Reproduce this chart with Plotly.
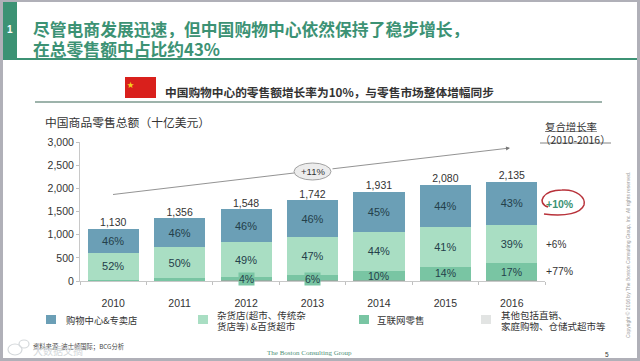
import plotly.graph_objects as go

W, H = 640, 361
years = ["2010", "2011", "2012", "2013", "2014", "2015", "2016"]
totals = [1130, 1356, 1548, 1742, 1931, 2080, 2135]
mall_pct = [46, 46, 46, 46, 45, 44, 43]
grocery_pct = [52, 50, 49, 47, 44, 41, 39]
internet_pct = [1, 3, 4, 6, 10, 14, 17]
other_pct = [1, 1, 1, 1, 1, 1, 1]
internet_labels = ["", "", "4%", "6%", "10%", "14%", "17%"]
y_ticks = [0, 500, 1000, 1500, 2000, 2500, 3000]
cagr_labels = ["+10%", "+6%", "+77%"]

C_MALL, C_GROC, C_NET, C_OTHER = "#6b9fb6", "#a9dec3", "#79c5a3", "#e2e4e3"
C_STRIP = "#8fae9f"
GREEN = "#3c9274"
TEXT = "#333333"
CJK = "Noto Sans CJK SC"
LAT = "Liberation Sans, Noto Sans CJK SC"


def px(x):
    return x / W


def py(y):
    return 1 - y / H


def val(pcts):
    return [t * p / 100 for t, p in zip(totals, pcts)]


fig = go.Figure()
seg = [
    ("其他", other_pct, C_STRIP, None),
    ("互联网零售", internet_pct, C_NET, None),
    ("杂货店", grocery_pct, C_GROC, grocery_pct),
    ("购物中心", mall_pct, C_MALL, mall_pct),
]
for name, pct, col, lab in seg:
    fig.add_bar(
        x=years, y=val(pct), name=name, marker=dict(color=col, line=dict(width=0)),
        text=[f"{p}%" for p in lab] if lab else None,
        textposition="inside" if lab else None,
        insidetextanchor="middle", textangle=0,
        textfont=dict(family=LAT, size=11, color="#24404a"),
        hoverinfo="skip",
    )
fig.add_scatter(
    x=years, y=totals, mode="text", text=[f"{t:,}" for t in totals],
    textposition="top center", textfont=dict(family=LAT, size=10.5, color=TEXT),
    hoverinfo="skip",
)

shapes = []


def rect(x0, y0, x1, y1, fill, line=None, layer="below"):
    shapes.append(dict(type="rect", xref="paper", yref="paper", x0=px(x0), x1=px(x1),
                       y0=py(y0), y1=py(y1), fillcolor=fill,
                       line=dict(width=0 if line is None else 1, color=line or fill), layer=layer))


def hline(x0, x1, y, color, width, y1=None):
    shapes.append(dict(type="line", xref="paper", yref="paper", x0=px(x0), x1=px(x1),
                       y0=py(y), y1=py(y if y1 is None else y1), line=dict(color=color, width=width),
                       layer="below"))


rect(3, 2, 637, 358, "#ffffff")
rect(3, 2, 17, 59, GREEN)
hline(3, 637, 59, GREEN, 2)
hline(35, 602, 102, "#7d9a8f", 1.5)
rect(125, 77, 156, 98, "#d9201c")
hline(540, 611, 143, "#666666", 0.8)
hline(113, 294, 194.5, "#777777", 0.8, y1=173)
for x0, col in [(46, C_MALL), (198, C_GROC), (359, C_NET), (481, C_OTHER)]:
    rect(x0, 315, x0 + 10, 324, col)

# hand-drawn red circle around +10%
path = f"M{px(548)},{py(207)} C{px(536)},{py(203)} {px(543)},{py(190)} {px(562)},{py(190)} " \
       f"C{px(577)},{py(189)} {px(586)},{py(198)} {px(584)},{py(205)} " \
       f"C{px(581)},{py(213)} {px(566)},{py(217)} {px(544)},{py(214)}"
shapes.append(dict(type="path", xref="paper", yref="paper", path=path,
                   line=dict(color="#b8323a", width=1.5), layer="above"))
# trend oval
shapes.append(dict(type="circle", xref="paper", yref="paper", x0=px(294), x1=px(331),
                   y0=py(180), y1=py(163), fillcolor="#ececec",
                   line=dict(color="#8c8c8c", width=0.8), layer="above"))
# watermark icon
for (a, b, c, d) in [(8, 344, 22, 355), (19, 340, 29, 348)]:
    shapes.append(dict(type="circle", xref="paper", yref="paper", x0=px(a), x1=px(c),
                       y0=py(d), y1=py(b), line=dict(color="#d4d8db", width=1.2), layer="above"))

ann = []


def T(x, y, s, size=11, color=TEXT, family=CJK, anchor="left", bold=False, angle=0, **kw):
    ann.append(dict(xref="paper", yref="paper", x=px(x - 2 if anchor == "left" else x), y=py(y),
                    text=f"<b>{s}</b>" if bold else s,
                    showarrow=False, xanchor=anchor, yanchor="middle", textangle=angle,
                    font=dict(size=size, color=color, family=family), align="left", **kw))


ann.append(dict(xref="paper", yref="paper", x=px(510), y=py(148), ax=331 - 510, ay=169 - 148,
                axref="pixel", ayref="pixel", text="", showarrow=True, arrowhead=2, arrowsize=1,
                arrowwidth=0.8, arrowcolor="#777777"))

T(10, 30, "1", 10, "#ffffff", LAT, "center", True)
T(33, 28, "尽管电商发展迅速，但中国购物中心依然保持了稳步增长，", 16.8, GREEN, CJK, bold=True, height=19)
T(33, 48, "在总零售额中占比约43%", 16.8, GREEN, CJK, bold=True, height=19)
T(165, 91, "中国购物中心的零售额增长率为10%，与零售市场整体增幅同步", 11.7, TEXT, CJK, bold=True)
T(136, 84, "★", 7, "#f4d21f", LAT, "right")
T(45, 121, "中国商品零售总额（十亿美元）", 11.8, TEXT, CJK)
T(571, 126, "<u>复合增长率</u>", 10.4, TEXT, CJK, "center", height=12)
T(575, 139, "（2010-2016）", 10.4, TEXT, CJK, "center", height=12)
T(312.5, 171.5, "+11%", 9.5, TEXT, LAT, "center")
T(546, 204, cagr_labels[0], 10.5, GREEN, LAT, bold=True)
T(546, 244, cagr_labels[1], 10, TEXT, LAT)
T(546, 271, cagr_labels[2], 10.5, TEXT, LAT)
T(66, 320, "购物中心&amp;专卖店", 9.3, TEXT, CJK)
T(217, 315, "杂货店(超市、传统杂", 9.5, TEXT, CJK, height=10)
T(217, 325.5, "货店等) &amp;百货超市", 9.5, TEXT, CJK, height=10)
T(377, 320, "互联网零售", 9.5, TEXT, CJK)
T(501, 314.5, "其他包括直销、", 9.5, TEXT, CJK, height=10)
T(501, 325.5, "家庭购物、仓储式超市等", 9.5, TEXT, CJK, height=10)
T(33, 346, "资料来源: 波士顿国际；BCG分析", 6.3, "#444444", CJK)
T(33, 350, "大数据文摘", 10, "#d4d8db", CJK)
T(267, 353, "The Boston Consulting Group", 7, "#4f8f78", "Liberation Serif")
T(607, 354, "5", 6.5, TEXT, LAT, "center")
T(628, 255, "Copyright © 2016 by The Boston Consulting Group, Inc. All rights reserved.", 5,
  "#9a9a9a", LAT, "center", angle=-90)

for i, (t, o, n, lab) in enumerate(zip(totals, other_pct, internet_pct, internet_labels)):
    if not lab:
        continue
    ann.append(dict(xref="x", yref="y", x=i, y=t * (o + n / 2) / 100 if n >= 10 else 40,
                    text=lab, showarrow=False, yanchor="middle",
                    bgcolor=C_NET if n < 10 else None, borderpad=0,
                    font=dict(size=10.5, family=LAT, color="#24404a")))

fig.update_layout(
    width=W, height=H, margin=dict(l=0, r=0, t=0, b=0, autoexpand=False), paper_bgcolor="#b0b0b8",
    plot_bgcolor="rgba(0,0,0,0)", barmode="stack", bargap=0.23, showlegend=False,
    shapes=shapes, annotations=ann,
    xaxis=dict(domain=[px(80), px(545)], type="category", categoryorder="array", categoryarray=years,
               range=[-0.5, 6.5], tickson="boundaries", ticks="outside",
               ticklen=3, tickcolor="#c0c0c0", linecolor="#c8c8c8", linewidth=1, showgrid=False,
               ticklabelstandoff=12, tickangle=0, tickfont=dict(family=LAT, size=10.5, color=TEXT),
               fixedrange=True),
    yaxis=dict(domain=[py(281), py(142)], range=[0, 3000], tickvals=y_ticks, tickformat=",",
               ticks="outside", ticklen=3, tickcolor="#c0c0c0", linecolor="#c8c8c8", linewidth=1,
               showgrid=False, zeroline=False, tickfont=dict(family=LAT, size=10.5, color=TEXT),
               fixedrange=True),
)
fig.write_html("out.html", config=dict(displayModeBar=False),
               post_script="document.body.style.margin='0';document.body.style.background='#b0b0b8';")
